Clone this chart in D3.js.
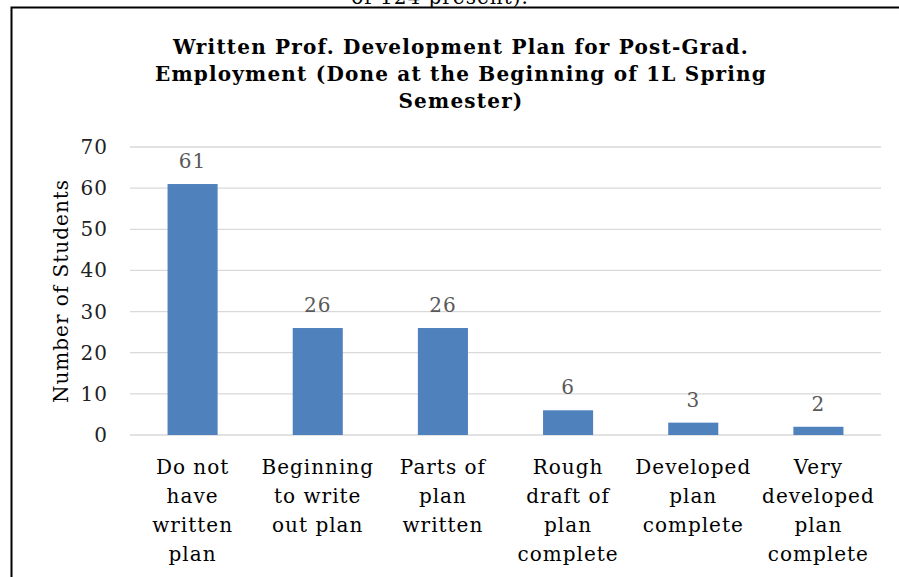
<!DOCTYPE html>
<html>
<head>
<script src="https://d3js.org/d3.v7.min.js"></script>
<style>
  body { margin: 0; background: #fff; }
  text { font-family: "DejaVu Serif", serif; font-size: 20px; letter-spacing: 1px; }
</style>
</head>
<body>
<script>
// chart data
var categories = [
  ["Do not", "have", "written", "plan"],
  ["Beginning", "to write", "out plan"],
  ["Parts of", "plan", "written"],
  ["Rough", "draft of", "plan", "complete"],
  ["Developed", "plan", "complete"],
  ["Very", "developed", "plan", "complete"]
];
var values = [61, 26, 26, 6, 3, 2];
var yTicks = [0, 10, 20, 30, 40, 50, 60, 70];
var titleLines = ["Written Prof. Development Plan for Post-Grad.",
                  "Employment (Done at the Beginning of 1L Spring",
                  "Semester)"];

var W = 899, H = 577;
var plot = {left: 130, right: 881, top: 147, bottom: 435};

var svg = d3.select("body").append("svg")
  .attr("width", W).attr("height", H);

// cut-off text from the page above + chart box border
svg.append("text").attr("x", 440).attr("y", 4)
  .attr("text-anchor", "middle")
  .text("of 124 present).");
svg.append("path")
  .attr("d", "M11.5," + H + "V7.5H" + W)
  .attr("fill", "none").attr("stroke", "#000").attr("stroke-width", 2);

// title
svg.append("g").selectAll("text").data(titleLines).join("text")
  .attr("x", 461).attr("y", function(d, i) { return 54 + i * 27; })
  .attr("text-anchor", "middle")
  .style("font-weight", "bold").style("letter-spacing", "1.2px")
  .text(function(d) { return d; });

var x = d3.scaleBand().domain(d3.range(values.length))
  .range([plot.left, plot.right]).paddingInner(0.6).paddingOuter(0.3);
var y = d3.scaleLinear().domain([0, 70]).range([plot.bottom, plot.top]);

// gridlines
svg.append("g").selectAll("line").data(yTicks).join("line")
  .attr("x1", plot.left).attr("x2", plot.right)
  .attr("y1", function(d) { return y(d); }).attr("y2", function(d) { return y(d); })
  .attr("stroke", "#d9d9d9").attr("stroke-width", 1.3);

// y tick labels
svg.append("g").selectAll("text").data(yTicks).join("text")
  .attr("x", 108).attr("y", function(d) { return y(d); })
  .attr("dy", "0.35em").attr("text-anchor", "end")
  .attr("fill", "#222")
  .text(function(d) { return d; });

// axis title
svg.append("text")
  .attr("transform", "translate(68,291) rotate(-90)")
  .attr("text-anchor", "middle")
  .text("Number of Students");

// bars
svg.append("g").selectAll("rect").data(values).join("rect")
  .attr("x", function(d, i) { return x(i); })
  .attr("width", x.bandwidth())
  .attr("y", function(d) { return y(d); })
  .attr("height", function(d) { return y(0) - y(d); })
  .attr("fill", "#4f81bd");

// value labels
svg.append("g").selectAll("text").data(values).join("text")
  .attr("x", function(d, i) { return x(i) + x.bandwidth() / 2; })
  .attr("y", function(d) { return y(d) - 16; })
  .attr("text-anchor", "middle")
  .attr("fill", "#595959")
  .text(function(d) { return d; });

// category labels
var cat = svg.append("g").selectAll("text").data(categories).join("text")
  .attr("x", function(d, i) { return x(i) + x.bandwidth() / 2; })
  .attr("y", 474).attr("text-anchor", "middle");
cat.selectAll("tspan").data(function(d) { return d; }).join("tspan")
  .attr("x", function() { return d3.select(this.parentNode).attr("x"); })
  .attr("dy", function(d, i) { return i ? 29 : 0; })
  .text(function(d) { return d; });
</script>
</body>
</html>
